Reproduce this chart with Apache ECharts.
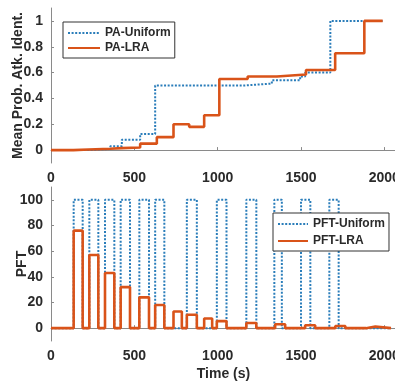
<!DOCTYPE html>
<html>
<head>
<meta charset="utf-8">
<script src="https://cdn.jsdelivr.net/npm/echarts@6/dist/echarts.min.js"></script>
<style>
  html, body { margin: 0; padding: 0; background: #fff; }
  #chart { width: 395px; height: 382px; }
</style>
</head>
<body>
<div id="chart"></div>
<script>
// top panel: mean probability of attack identification (step changes)
const paUniformTimes = [0, 235, 355, 425, 535, 625, 1155, 1325, 1495, 1525, 1676, 1990];
const paUniformValues = [0, 0.01, 0.03, 0.08, 0.125, 0.5, 0.515, 0.54, 0.57, 0.6, 1, 1];
const paLraTimes = [0, 135, 225, 355, 425, 535, 635, 735, 829, 919, 1010, 1180, 1355, 1530, 1705, 1880, 1990];
const paLraValues = [0, 0.005, 0.01, 0.015, 0.02, 0.05, 0.1, 0.2, 0.18, 0.27, 0.55, 0.57, 0.585, 0.62, 0.75, 1, 1];

// bottom panel: PFT pulses (start time, end time, height)
const pftUniformStarts = [136, 230, 324, 418, 530, 625, 815, 995, 1172, 1340, 1500, 1670];
const pftUniformEnds = [190, 284, 380, 474, 588, 680, 875, 1053, 1232, 1385, 1556, 1726];
const pftUniformHeights = [100, 100, 100, 100, 100, 100, 100, 100, 100, 100, 100, 100];
const pftLraStarts = [136, 230, 324, 418, 530, 625, 735, 815, 919, 995, 1172, 1345, 1525, 1706, 1890];
const pftLraEnds = [190, 284, 380, 474, 588, 680, 785, 875, 967, 1053, 1232, 1405, 1585, 1766, 1946];
const pftLraHeights = [76, 57, 43, 32, 24, 18, 13, 10.5, 7.5, 5.5, 4, 3, 2.3, 1.7, 1.3];
const pftEndTime = 2040;

const timeTicks = [0, 500, 1000, 1500, 2000];
const probTicks = [0, 0.2, 0.4, 0.6, 0.8, 1];
const pftTicks = [0, 20, 40, 60, 80, 100];

const BLUE = "#2a7dba";
const ORANGE = "#d95319";
const AXIS = "#8a8a8a";
const TEXT = "#2a2a2a";
const FONT = "Liberation Sans, Arial, sans-serif";

const zip = (xs, ys) => xs.map((x, i) => [x, ys[i]]);

const pulses = (starts, ends, heights) => {
  const points = [[0, 0]];
  starts.forEach((s, i) => {
    points.push([s, 0], [s, heights[i]], [ends[i], heights[i]], [ends[i], 0]);
  });
  points.push([pftEndTime, 0]);
  return points;
};

const labelStyle = {
  color: TEXT,
  fontFamily: FONT,
  fontSize: 14,
  fontWeight: "bold",
};

const plain = (value) => String(value);

const timeAxis = (gridIndex, name) => ({
  gridIndex,
  type: "value",
  min: 0,
  max: 2070,
  axisLine: { lineStyle: { color: AXIS, width: 1 } },
  axisTick: { inside: true, length: 3, lineStyle: { color: AXIS }, customValues: timeTicks },
  axisLabel: { ...labelStyle, margin: 8, customValues: timeTicks, formatter: plain },
  splitLine: { show: false },
  name,
  nameLocation: "middle",
  nameGap: 26,
  nameMoveOverlap: false,
  nameTextStyle: { ...labelStyle },
});

const valueAxis = (gridIndex, min, max, ticks, name, nameGap) => ({
  gridIndex,
  type: "value",
  min,
  max,
  axisLine: { show: true, lineStyle: { color: AXIS, width: 1 } },
  axisTick: { show: true, inside: true, length: 3, lineStyle: { color: AXIS }, customValues: ticks },
  axisLabel: { ...labelStyle, margin: 8, customValues: ticks, formatter: plain },
  splitLine: { show: false },
  name,
  nameLocation: "middle",
  nameGap,
  nameMoveOverlap: false,
  nameTextStyle: { ...labelStyle },
});

const legendBox = (data, left, top, itemWidth, itemGap) => ({
  data,
  orient: "vertical",
  left,
  top,
  itemWidth,
  itemHeight: 12,
  itemGap,
  padding: [5, 4, 4, 4],
  borderColor: "#333",
  borderWidth: 1,
  backgroundColor: "#fff",
  itemStyle: { opacity: 0 },
  textStyle: { color: TEXT, fontFamily: FONT, fontSize: 12, fontWeight: "bold" },
});

const dotted = { color: BLUE, width: 2, type: [2, 1.6] };
const solid = { color: ORANGE, width: 2.6 };

const option = {
  animation: false,
  backgroundColor: "#fff",
  grid: [
    { left: 51, top: 8, width: 345, height: 155, outerBoundsMode: "none", containLabel: false },
    { left: 51, top: 187, width: 345, height: 154, outerBoundsMode: "none", containLabel: false },
  ],
  xAxis: [timeAxis(0, ""), timeAxis(1, "Time (s)")],
  yAxis: [
    valueAxis(0, -0.1, 1.1, probTicks, "Mean Prob. Atk. Ident.", 26),
    valueAxis(1, -10, 110, pftTicks, "PFT", 22),
  ],
  legend: [
    legendBox(["PA-Uniform", "PA-LRA"], 63, 22, 32, 3),
    legendBox(["PFT-Uniform", "PFT-LRA"], 273, 213, 30, 5),
  ],
  series: [
    {
      name: "PA-Uniform", type: "line", xAxisIndex: 0, yAxisIndex: 0,
      step: "end", symbol: "none", lineStyle: dotted, itemStyle: { color: BLUE },
      data: zip(paUniformTimes, paUniformValues),
    },
    {
      name: "PA-LRA", type: "line", xAxisIndex: 0, yAxisIndex: 0,
      step: "end", symbol: "none", lineStyle: solid, itemStyle: { color: ORANGE },
      data: zip(paLraTimes, paLraValues),
    },
    {
      name: "PFT-Uniform", type: "line", xAxisIndex: 1, yAxisIndex: 1,
      symbol: "none", lineStyle: dotted, itemStyle: { color: BLUE },
      data: pulses(pftUniformStarts, pftUniformEnds, pftUniformHeights),
    },
    {
      name: "PFT-LRA", type: "line", xAxisIndex: 1, yAxisIndex: 1,
      symbol: "none", lineStyle: solid, itemStyle: { color: ORANGE },
      data: pulses(pftLraStarts, pftLraEnds, pftLraHeights),
    },
  ],
};

const chart = echarts.init(document.getElementById("chart"), null, { renderer: "canvas" });
chart.setOption(option);
</script>
</body>
</html>
